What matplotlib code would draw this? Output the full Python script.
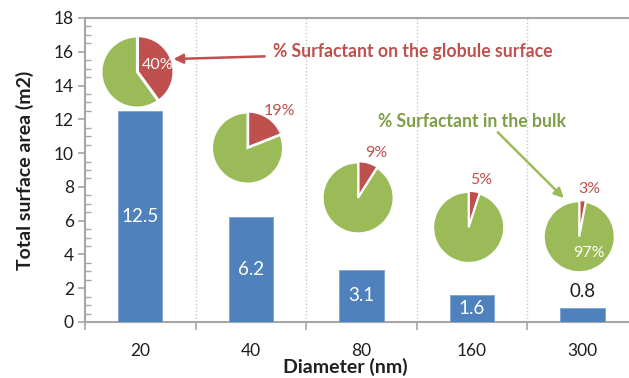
import matplotlib
matplotlib.use("Agg")
import matplotlib.pyplot as plt
from matplotlib.ticker import MultipleLocator, FixedLocator, NullFormatter
import numpy as np

# Data
diameters = ["20", "40", "80", "160", "300"]
surface_area = [12.5, 6.2, 3.1, 1.6, 0.8]
pct_on_surface = [40, 19, 9, 5, 3]
pct_in_bulk = [100 - p for p in pct_on_surface]

# Layout: vertical position of each pie centre (in axis units)
pie_heights = [14.8, 10.3, 7.35, 5.6, 5.05]
pie_radius_px = 35.5

BLUE = "#4F81BD"
RED = "#C0504D"
GREEN = "#9BBB59"
GREEN_TXT = "#7E9F45"
AXIS_GRAY = "#A6A6A6"
TXT = "#1F1F1F"

plt.rcParams["font.family"] = ["Lato", "DejaVu Sans"]

W, H = 629, 378
fig = plt.figure(figsize=(W / 100, H / 100), dpi=100)
ax = fig.add_axes([85 / W, (H - 322) / H, (W - 85) / W, (322 - 18) / H])

x = np.arange(len(diameters))
ax.bar(x, surface_area, width=0.4, color=BLUE, edgecolor="#7DA3D4", linewidth=0.6, zorder=3)

ax.set_xlim(-0.5, 4.42)
ax.set_ylim(0, 18)

# Value labels: centred inside, or above when the bar is too short
for xi, v in zip(x, surface_area):
    if v >= 1.0:
        ax.text(xi, v / 2, f"{v:g}", ha="center", va="center", color="white",
                fontsize=13.5, zorder=4)
    else:
        ax.annotate(f"{v:g}", (xi, v), xytext=(0, 12), textcoords="offset points",
                    ha="center", va="center", color=TXT, fontsize=13.5, zorder=4)

# Axes styling
ax.spines["right"].set_visible(False)
for side in ["left", "bottom", "top"]:
    ax.spines[side].set_color(AXIS_GRAY)
    ax.spines[side].set_linewidth(1.5)

ax.yaxis.set_major_locator(MultipleLocator(2))
ax.yaxis.set_minor_locator(MultipleLocator(0.5))
ax.tick_params(axis="y", which="major", direction="out", length=5, width=1.2,
               color=AXIS_GRAY, labelsize=12.5, labelcolor=TXT, pad=3)
ax.tick_params(axis="y", which="minor", direction="in", length=4, width=1.0,
               color=AXIS_GRAY)

ax.xaxis.set_major_locator(FixedLocator(x))
ax.set_xticklabels(diameters)
ax.xaxis.set_minor_locator(FixedLocator(np.arange(-0.5, 5, 1.0)))
ax.xaxis.set_minor_formatter(NullFormatter())
ax.tick_params(axis="x", which="major", length=0, labelsize=12.5, labelcolor=TXT, pad=15)
ax.tick_params(axis="x", which="minor", direction="out", length=6, width=1.2,
               color=AXIS_GRAY)

for b in np.arange(0.5, 4.5, 1.0):
    ax.axvline(b, color="#C8C8C8", linestyle=(0, (1, 1.5)), linewidth=1.0, zorder=1)

ax.set_ylabel("Total surface area (m2)", fontsize=14, fontweight="bold", color=TXT)
ax.set_xlabel("Diameter (nm)", fontsize=14, fontweight="bold", color=TXT)
ax.yaxis.set_label_coords(-51 / 544, 0.5)
ax.xaxis.set_label_coords(0.478, -36 / 304)

# Pies above each bar
fig.canvas.draw()
to_disp = ax.transData
lim = 1.04
for i, (s, b, h) in enumerate(zip(pct_on_surface, pct_in_bulk, pie_heights)):
    cx, cy = to_disp.transform((x[i] - 0.03, h))
    half = pie_radius_px * lim
    pax = fig.add_axes([(cx - half) / W, (cy - half) / H, 2 * half / W, 2 * half / H])
    pax.pie([s, b], colors=[RED, GREEN], startangle=90, counterclock=False,
            explode=[0.03, 0], radius=1.0,
            wedgeprops=dict(edgecolor="white", linewidth=1.5))
    pax.set_xlim(-lim, lim)
    pax.set_ylim(-lim, lim)
    pax.set_aspect("equal")
    pax.axis("off")
    mid = np.deg2rad(90 - s * 3.6 / 2)
    if i == 0:
        pax.text(0.62 * np.cos(mid), 0.62 * np.sin(mid), f"{s}%", ha="center",
                 va="center", color="white", fontsize=11.5)
    else:
        r = 1.38
        ang = mid - np.deg2rad(6)
        pax.text(r * np.cos(ang), r * np.sin(ang), f"{s}%", ha="center",
                 va="center", color=RED, fontsize=11.5, clip_on=False)
    if i == len(pct_on_surface) - 1:
        pax.text(0.28, -0.45, f"{b}%", ha="center", va="center", color="white",
                 fontsize=11.5)

# Callouts
ax.annotate("% Surfactant on the globule surface", xy=(0.30, 15.57),
            xytext=(1.20, 15.99), textcoords="data", ha="left", va="center",
            color=RED, fontsize=12.7, fontweight="bold", zorder=6,
            arrowprops=dict(arrowstyle="-|>", color=RED, lw=1.8, mutation_scale=14,
                            shrinkA=4, shrinkB=0))
ax.annotate("% Surfactant in the bulk", xy=(3.83, 7.34),
            xytext=(2.154, 11.9), textcoords="data", ha="left", va="center",
            color=GREEN_TXT, fontsize=12.7, fontweight="bold", zorder=6,
            arrowprops=dict(arrowstyle="-|>", color=GREEN, lw=1.8, mutation_scale=14,
                            shrinkA=0, shrinkB=0, relpos=(0.62, 0.0)))

fig.savefig("out.png", dpi=100)
